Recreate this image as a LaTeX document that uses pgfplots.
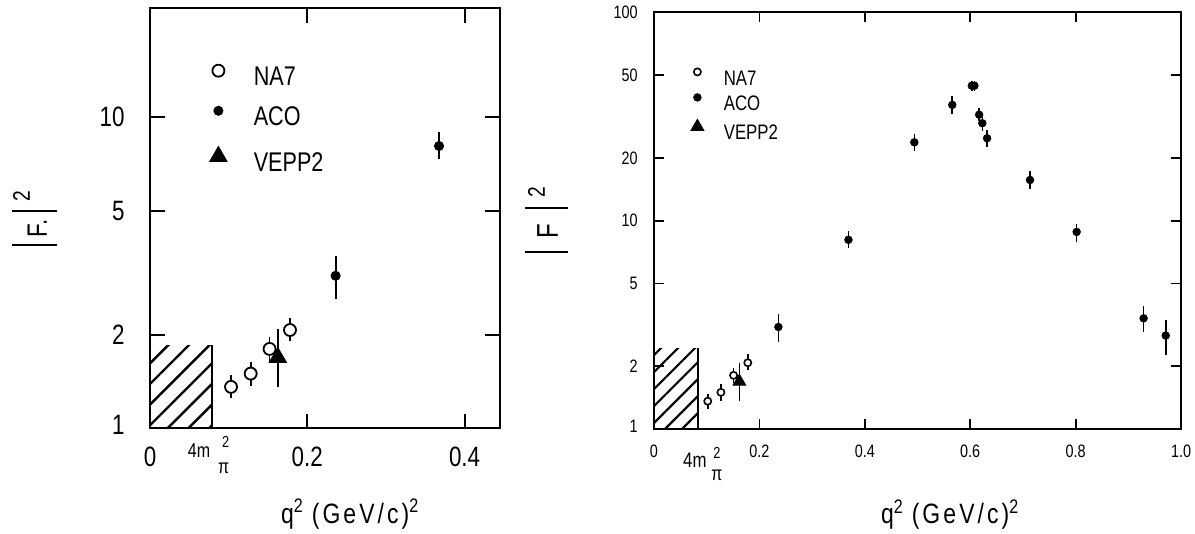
\documentclass[border=0pt]{standalone}
\usepackage{pgfplots}
\pgfplotsset{compat=1.18}
\usepackage{fontspec}
\setmainfont{Liberation Sans}[FakeStretch=0.8]
\newfontfamily\labfont{Liberation Sans}[FakeStretch=0.82, LetterSpace=11]
\usetikzlibrary{patterns.meta}

\newcommand{\fourmL}{\raisebox{4.9pt}{{\fontsize{10}{10}\selectfont 4m}\hspace{4pt}\makebox[0pt][l]{\raisebox{-8pt}{\fontsize{10}{10}\selectfont π}}\makebox[0pt][l]{\hspace{2pt}\raisebox{5pt}{\fontsize{8}{8}\selectfont 2}}\hspace{6pt}}}
\newcommand{\fourmR}{\raisebox{-4.7pt}{{\fontsize{10.5}{10.5}\selectfont 4m}\hspace{2.5pt}\makebox[0pt][l]{\raisebox{-6.7pt}{\fontsize{10}{10}\selectfont π}}\makebox[0pt][l]{\hspace{1pt}\raisebox{4.2pt}{\fontsize{8}{8}\selectfont 2}}\hspace{5pt}}}

\begin{document}
\begin{tikzpicture}
\useasboundingbox (0pt,0pt) rectangle (597.5pt,267pt);

% ---------------- left panel ----------------
\begin{axis}[
  scale only axis, anchor=south west, ymode=log, ymin=1,
  /pgf/number format/assume math mode=true,
  tick align=inside, yminorticks=false,
  axis line style={line width=1pt},
  legend cell align=left,
  at={(75pt,52.75pt)}, width=175pt, height=210pt,
  xmin=0, xmax=0.445, ymax=22.26,
  major tick length=7.5pt, tick style={black, line width=1pt},
  xtick={0,0.2,0.4}, xticklabels={0,0.2,0.4},
  ytick={1,2,5,10}, yticklabels={\raisebox{3.5pt}{1},2,5,10},
  xticklabel style={anchor=base, inner sep=0pt, yshift=-19.2pt, font=\fontsize{14}{14}\selectfont},
  yticklabel style={anchor=east, inner sep=0pt, xshift=-12.5pt, font=\fontsize{14}{14}\selectfont},
  extra x ticks={0.075}, extra x tick labels={\fourmL},
  extra x tick style={major tick length=0pt},
  every axis y label/.style={at={(axis description cs:-0.33,0.5)}, rotate=90, anchor=center, inner sep=0pt, font=\fontsize{14}{14}\selectfont},
  ylabel={\rule[-5pt]{1pt}{22.5pt}\hspace{3.5pt}F.\hspace{4pt}\rule[-5pt]{1pt}{22.5pt}\hspace{4pt}\raisebox{8.5pt}{\fontsize{12}{12}\selectfont 2}},
  every axis x label/.style={at={(axis description cs:0.572,-0.2036)}, anchor=center, inner sep=0pt},
  xlabel={\labfont\fontsize{14}{14}\selectfont q\textsuperscript{2}\hspace{4pt}(GeV/c)\textsuperscript{2}},
  legend style={at={(axis description cs:0.1657,0.8662)}, anchor=north west, draw=none, fill=none,
    inner sep=0pt, outer sep=0pt, row sep=8.95pt, column sep=0pt,
    nodes={inner sep=0pt, font=\fontsize{13.5}{13.5}\selectfont}},
  legend image code/.code={\draw[#1] plot coordinates {(0pt,3.4pt)}; \path (-5pt,0pt) (17.5pt,0pt);},
]
\addplot[forget plot, draw=none, pattern={Lines[angle=45, distance=7.3pt, line width=1.2pt]}]
  coordinates {(0,1.85) (0.0788,1.85)} \closedcycle;
\addplot[forget plot, black, line width=1pt] coordinates {(0.0788,1) (0.0788,1.85)};

\addplot[only marks, mark=*, mark size=3pt, mark options={fill=white, draw=black, line width=0.9pt},
  error bars/.cd, y dir=both, y explicit, error mark=none, error bar style={line width=0.9pt}]
  table[x=x, y=y, y error plus=ep, y error minus=em] {
x y ep em
0.103 1.36 0.12 0.11
0.128 1.50 0.14 0.13
0.152 1.80 0.16 0.15
0.178 2.07 0.20 0.16
};
\addlegendentry{NA7}
\addplot[only marks, mark=*, mark size=2.3pt, black,
  error bars/.cd, y dir=both, y explicit, error mark=none, error bar style={line width=0.9pt}]
  table[x=x, y=y, y error plus=ep, y error minus=em] {
x y ep em
0.236 3.09 0.49 0.49
0.3675 8.06 0.85 0.76
};
\addlegendentry{ACO}
\addplot[only marks, mark=triangle*, mark size=5pt, black,
  error bars/.cd, y dir=both, y explicit, error mark=none, error bar style={line width=0.9pt}]
  table[x=x, y=y, y error plus=ep, y error minus=em] {
x y ep em
0.1625 1.69 0.39 0.33
};
\addlegendentry{VEPP2}
\end{axis}

% ---------------- right panel ----------------
\begin{axis}[
  scale only axis, anchor=south west, ymode=log, ymin=1,
  /pgf/number format/assume math mode=true,
  tick align=inside, yminorticks=false,
  axis line style={line width=1pt},
  legend cell align=left,
  at={(327pt,52.5pt)}, width=263.5pt, height=208.25pt,
  xmin=0, xmax=1.0, ymax=100,
  major tick length=5pt, tick style={black, line width=0.9pt},
  xtick={0,0.2,0.4,0.6,0.8,1.0}, xticklabels={0,0.2,0.4,0.6,0.8,1.0},
  ytick={1,2,5,10,20,50,100}, yticklabels={\raisebox{3pt}{1},2,5,10,20,50,100},
  xticklabel style={anchor=base, inner sep=0pt, yshift=-14.5pt, font=\fontsize{9}{9}\selectfont},
  yticklabel style={anchor=east, inner sep=0pt, xshift=-8pt, font=\fontsize{9}{9}\selectfont},
  extra x ticks={0.0917}, extra x tick labels={\fourmR},
  extra x tick style={major tick length=0pt},
  every axis y label/.style={at={(axis description cs:-0.204,0.502)}, rotate=90, anchor=center, inner sep=0pt, font=\fontsize{15}{15}\selectfont},
  ylabel={\rule[-5pt]{1pt}{21.5pt}\hspace{6.5pt}F\hspace{7pt}\rule[-5pt]{1pt}{21.5pt}\hspace{5pt}\raisebox{6.5pt}{\fontsize{12}{12}\selectfont 2}},
  every axis x label/.style={at={(axis description cs:0.562,-0.205)}, anchor=center, inner sep=0pt},
  xlabel={\labfont\fontsize{14}{14}\selectfont q\textsuperscript{2}\hspace{4pt}(GeV/c)\textsuperscript{2}},
  legend style={at={(axis description cs:0.0664,0.866)}, anchor=north west, draw=none, fill=none,
    inner sep=0pt, outer sep=0pt, row sep=2.75pt, column sep=0pt,
    nodes={inner sep=0pt, font=\fontsize{10.5}{10.5}\selectfont}},
  legend image code/.code={\draw[#1] plot coordinates {(0pt,3.75pt)}; \path (-4pt,0pt) (13pt,0pt);},
]
\addplot[forget plot, draw=none, pattern={Lines[angle=45, distance=6pt, line width=1.1pt]}]
  coordinates {(0,2.44) (0.0826,2.44)} \closedcycle;
\addplot[forget plot, black, line width=1pt] coordinates {(0.0826,1) (0.0826,2.44)};

\addplot[only marks, mark=*, mark size=1.8pt, mark options={fill=white, draw=black, line width=0.8pt},
  error bars/.cd, y dir=both, y explicit, error mark=none, error bar style={line width=0.8pt}]
  table[x=x, y=y, y error plus=ep, y error minus=em] {
x y ep em
0.102 1.36 0.12 0.11
0.127 1.50 0.14 0.13
0.151 1.81 0.16 0.15
0.178 2.08 0.20 0.16
};
\addlegendentry{NA7}
\addplot[only marks, mark=*, mark size=1.9pt, black,
  error bars/.cd, y dir=both, y explicit, error mark=none, error bar style={line width=0.8pt}]
  table[x=x, y=y, y error plus=ep, y error minus=em] {
x y ep em
0.236 3.09 0.48 0.48
0.369 8.10 0.86 0.74
0.494 23.8 2.2 2.1
0.566 36.0 3.9 3.4
0.603 44.5 2.6 2.6
0.608 44.5 2.6 2.6
0.617 32.3 2.3 2.1
0.623 29.4 2.0 2.4
0.632 24.9 2.4 2.2
0.7135 15.7 1.7 1.5
0.802 8.84 0.76 0.94
0.929 3.40 0.48 0.48
0.971 2.81 0.53 0.54
};
\addlegendentry{ACO}
\addplot[only marks, mark=triangle*, mark size=3.7pt, black,
  error bars/.cd, y dir=both, y explicit, error mark=none, error bar style={line width=0.8pt}]
  table[x=x, y=y, y error plus=ep, y error minus=em] {
x y ep em
0.162 1.69 0.39 0.33
};
\addlegendentry{VEPP2}
\end{axis}
\end{tikzpicture}
\end{document}
